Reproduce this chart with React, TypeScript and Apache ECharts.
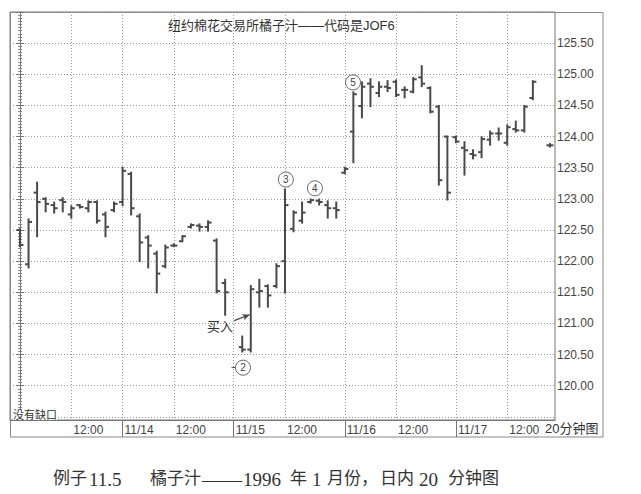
import React, { useEffect, useRef } from "react";
import * as echarts from "echarts";

// 20-minute OHLC bars, one per slot (null = no bar drawn)
const opens = [
  122.5, 121.95, 123.1, 123.0, 122.9, 122.98, 122.75, 122.9, 122.85, 122.95, 122.75, 122.82,
  122.95, 123.4, 122.72, 122.38, 122.12, 121.92, 122.25, 122.32, 122.55, 122.57, 122.55, 122.33, 121.65,
  null, 120.62, 120.58, 121.5, 121.6, 121.6, 122.0, 122.52, 122.65, 122.95, 122.97, 122.9, 122.85,
  123.42, 124.08, 124.49, 124.85, 124.7, 124.8, 124.88, 124.75, 124.72, 124.95, 124.78, 124.48, 124.0,
  123.99, 123.82, 123.72, 123.75, 123.95, 124.05, 123.9, 124.12, 124.1, 124.62, null, 123.86,
];
const highs = [
  122.51, 122.67, 123.26, 123.01, 122.94, 123.01, 122.88, 122.9, 122.96, 122.96, 122.78, 122.94,
  123.5, 123.42, 122.75, 122.4, 122.15, 122.25, 122.27, 122.4, 122.59, 122.59, 122.64, 122.35, 121.7,
  null, 120.79, 121.6, 121.7, 121.61, 121.95, 123.15, 122.8, 122.94, 122.99, 122.99, 122.96, 122.94,
  123.5, 124.71, 124.87, 124.92, 124.87, 124.89, 124.9, 124.79, 124.94, 125.13, 124.79, 124.49, 124.0,
  124.0, 123.91, 123.78, 123.99, 124.08, 124.13, 124.18, 124.24, 124.49, 124.89, null, 123.88,
];
const lows = [
  122.24, 121.9, 122.4, 122.8, 122.78, 122.8, 122.7, 122.86, 122.8, 122.62, 122.4, 122.8,
  122.9, 122.75, 122.0, 121.9, 121.5, 121.9, 122.24, 122.32, 122.54, 122.49, 122.49, 121.5, 121.14,
  null, 120.55, 120.55, 121.27, 121.27, 121.58, 121.5, 122.48, 122.62, 122.94, 122.91, 122.7, 122.7,
  123.41, 123.59, 124.31, 124.49, 124.65, 124.73, 124.65, 124.63, 124.71, 124.81, 124.39, 123.23, 122.99,
  123.91, 123.39, 123.65, 123.67, 123.87, 123.95, 123.87, 124.08, 124.08, 124.6, null, 123.84,
];
const closes = [
  122.26, 122.63, 122.95, 122.92, 122.85, 122.95, 122.85, 122.87, 122.95, 122.65, 122.55, 122.92,
  123.45, 122.85, 122.3, 122.25, 121.8, 122.22, 122.25, 122.4, 122.58, 122.55, 122.62, 121.52, 121.5,
  null, 120.58, 121.55, 121.52, 121.45, 121.92, 122.9, 122.78, 122.78, 122.98, 122.95, 122.85, 122.82,
  123.48, 124.68, 124.8, 124.8, 124.8, 124.78, 124.67, 124.75, 124.92, 124.85, 124.4, 123.3, 123.1,
  123.92, 123.78, 123.7, 123.96, 124.05, 124.05, 124.15, 124.1, 124.48, 124.88, null, 123.86,
];

// time axis labels (bar slot where each label/grid line sits)
const xLabelSlots = [6, 12, 18, 25, 31, 38, 44, 51, 57];
const xLabelTexts = ["12:00", "11/14", "12:00", "11/15", "12:00", "11/16", "12:00", "11/17", "12:00"];
const daySlots = [12, 25, 38, 51];

const titleText = "纽约棉花交易所橘子汁——代码是JOF6";
const noGapText = "没有缺口";
const periodText = "20分钟图";
const buyText = "买入";
const waveLabels = ["2", "3", "4", "5"];
const waveSlots = [26.09, 31.1, 34.5, 38.96];
const wavePrices = [120.29, 123.31, 123.17, 124.87];

const captionParts = ["例子", "11.5", "橘子汁", "——", "1996", "年", "1", "月份，", "日内", "20", "分钟图"];
const captionXs = [53, 89, 150, 202, 243, 290, 312, 327, 380, 419, 448];
const captionSizes = [17, 19, 17, 20, 19, 17, 19, 17, 17, 19, 17];

const SANS = '"Liberation Sans", Arial, "Noto Sans CJK SC", sans-serif';
const SERIF = '"Liberation Serif", "Noto Sans CJK SC", serif';

export default function App() {
  const ref = useRef<HTMLDivElement>(null);
  useEffect(() => {
    if (!ref.current) return;
    const chart = echarts.init(ref.current, undefined, { renderer: "svg" });
    const data: number[][] = [];
    opens.forEach((o, i) => {
      if (o == null) return;
      data.push([i, o, highs[i] as number, lows[i] as number, closes[i] as number]);
    });
    const barStroke = "#4a4a4a";
    const gridLine = { color: "#999", width: 1, type: [1, 2] as any };

    const option: any = {
      animation: false,
      backgroundColor: "#fff",
      title: {
        text: titleText,
        left: 163,
        top: 14,
        textStyle: { fontSize: 13, fontWeight: "normal", color: "#333", fontFamily: SANS },
      },
      grid: {
        left: 10,
        right: 86,
        top: 12,
        bottom: 74,
        show: true,
        borderColor: "#777",
        borderWidth: 1,
        containLabel: false,
        outerBoundsMode: "none",
      },
      xAxis: [
        {
          type: "value",
          min: -1.17,
          max: 62.59,
          axisLine: { show: true, lineStyle: { color: "#777", width: 1 } },
          splitLine: { show: false },
          axisTick: {
            show: true,
            customValues: daySlots,
            length: 17,
            lineStyle: { color: "#777", width: 1 },
          },
          axisLabel: {
            customValues: xLabelSlots,
            formatter: (v: number) => {
              const k = xLabelSlots.indexOf(Math.round(v));
              return k >= 0 ? xLabelTexts[k] : "";
            },
            align: "left",
            margin: 4,
            padding: [0, 0, 0, 2],
            fontSize: 12,
            color: "#444",
            fontFamily: SANS,
            hideOverlap: false,
          },
        },
        {
          type: "value",
          position: "top",
          min: -1.17,
          max: 62.59,
          axisLine: { show: false },
          axisTick: { show: false, customValues: xLabelSlots },
          axisLabel: { show: false, customValues: xLabelSlots },
          splitLine: { show: true, lineStyle: gridLine },
        },
      ],
      yAxis: [
        {
          type: "value",
          position: "right",
          min: 119.45,
          max: 126.0,
          minInterval: 0.5,
          maxInterval: 0.5,
          splitNumber: 13,
          axisLine: { show: true, lineStyle: { color: "#777", width: 1 } },
          axisTick: { show: true, inside: true, length: 4, lineStyle: { color: "#777" } },
          minorTick: { show: true, splitNumber: 10, length: 2, lineStyle: { color: "#888" } },
          splitLine: { show: true, lineStyle: gridLine },
          axisLabel: {
            margin: 2,
            fontSize: 12,
            color: "#444",
            fontFamily: SANS,
            showMinLabel: true,
            showMaxLabel: true,
            formatter: (v: number) => (v < 119.99 || v > 125.51 ? "" : v.toFixed(2)),
          },
        },
        {
          type: "value",
          position: "left",
          min: 119.45,
          max: 126.0,
          minInterval: 0.5,
          maxInterval: 0.5,
          splitNumber: 13,
          axisLine: { show: true, lineStyle: { color: "#777", width: 1 } },
          axisTick: { show: true, inside: true, length: 4, lineStyle: { color: "#777" } },
          minorTick: { show: true, splitNumber: 10, length: 2, lineStyle: { color: "#888" } },
          splitLine: { show: false },
          axisLabel: { show: false },
        },
      ],
      series: [
        {
          type: "custom",
          xAxisIndex: 0,
          yAxisIndex: 0,
          clip: true,
          data,
          encode: { x: 0, y: [1, 2, 3, 4] },
          renderItem: (params: any, api: any) => {
            const x = api.value(0);
            const o = api.coord([x, api.value(1)]);
            const h = api.coord([x, api.value(2)]);
            const l = api.coord([x, api.value(3)]);
            const c = api.coord([x, api.value(4)]);
            const style = { stroke: barStroke, lineWidth: 2 };
            return {
              type: "group",
              children: [
                { type: "line", shape: { x1: h[0], y1: h[1] - 1, x2: l[0], y2: l[1] + 1 }, style },
                { type: "line", shape: { x1: o[0] - 3.5, y1: o[1], x2: o[0], y2: o[1] }, style },
                { type: "line", shape: { x1: c[0], y1: c[1], x2: c[0] + 3.5, y2: c[1] }, style },
              ],
            };
          },
          markLine: {
            silent: true,
            symbol: ["none", "none"],
            label: { show: false },
            z: 1,
            data: [
              [
                { coord: [24.75, 120.29], lineStyle: { type: "solid", color: "#555", width: 1 } },
                { coord: [25.35, 120.29] },
              ],
              [
                { coord: [25.05, 121.045], lineStyle: { type: "solid", color: "#444", width: 1.2 } },
                { coord: [26.85, 121.14], symbol: "arrow", symbolSize: [5, 7] },
              ],
            ],
          },
          markPoint: {
            silent: true,
            data: [
              ...waveLabels.map((t, k) => ({
                name: t,
                coord: [waveSlots[k], wavePrices[k]],
                symbol: "circle",
                symbolSize: 15,
                itemStyle: { color: "#fff", borderColor: "#666", borderWidth: 1 },
                label: {
                  show: true,
                  position: "inside",
                  formatter: "{b}",
                  fontSize: 10,
                  color: "#444",
                  fontFamily: SANS,
                },
              })),
              {
                name: buyText,
                coord: [23.4, 120.95],
                symbol: "circle",
                symbolSize: 1,
                itemStyle: { color: "rgba(0,0,0,0)" },
                label: {
                  show: true,
                  position: "inside",
                  formatter: "{b}",
                  fontSize: 13,
                  color: "#333",
                  fontFamily: SANS,
                },
              },
            ],
          },
        },
      ],
      graphic: [
        {
          type: "rect",
          silent: true,
          shape: { x: 10.5, y: 12.5, width: 592.5, height: 424.5 },
          style: { fill: "none", stroke: "#888", lineWidth: 1 },
          z: 0,
        },
        {
          type: "text",
          silent: true,
          left: 13,
          top: 409,
          z: 10,
          style: {
            text: noGapText,
            fontSize: 11,
            fill: "#333",
            fontFamily: SANS,
            backgroundColor: "#fff",
          },
        },
        {
          type: "text",
          silent: true,
          left: 545,
          top: 422,
          style: { text: periodText, fontSize: 13, fill: "#333", fontFamily: SANS },
        },
        ...captionParts.map((t, k) => ({
          type: "text",
          silent: true,
          left: captionXs[k],
          top: 470,
          style: {
            text: t,
            fontSize: captionSizes[k],
            fill: "#333",
            fontFamily: SERIF,
            verticalAlign: "middle",
          },
        })),
      ],
    };
    chart.setOption(option);
    return () => chart.dispose();
  }, []);
  return (
    <div
      ref={ref}
      style={{ position: "absolute", left: 0, top: 0, width: 641, height: 494, background: "#fff" }}
    />
  );
}
